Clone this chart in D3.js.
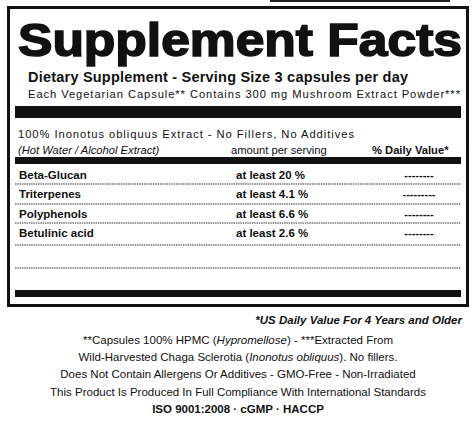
<!DOCTYPE html><html><head><meta charset="utf-8"><script src="https://cdn.jsdelivr.net/npm/d3@7"></script>
<style>body{margin:0;background:#fff}</style></head><body><script>
const nutrients=["Beta-Glucan","Triterpenes","Polyphenols","Betulinic acid"];
const amounts=["at least 20 %","at least 4.1 %","at least 6.6 %","at least 2.6 %"];
const dailyValues=["--------","---------","--------","--------"];
const footLines=[
 [["**Capsules 100% HPMC (",""],["Hypromellose","i"],[")  -  ***Extracted From",""]],
 [["Wild-Harvested Chaga Sclerotia (",""],["Inonotus obliquus","i"],["). No fillers.",""]],
 [["Does Not Contain Allergens Or Additives  -  GMO-Free  -  Non-Irradiated",""]],
 [["This Product Is Produced In Full Compliance With International Standards",""]],
 [["ISO 9001:2008  ·  cGMP  ·  HACCP","b"]]
];
const W=476,H=433,F="Liberation Sans, Arial, sans-serif";
const svg=d3.select("body").append("svg").attr("width",W).attr("height",H).style("font-family",F);
svg.append("rect").attr("x",270).attr("y",0).attr("width",180).attr("height",2).attr("fill","#222");
svg.append("rect").attr("x",8.5).attr("y",7.5).attr("width",459).attr("height",298).attr("fill","none").attr("stroke","#111").attr("stroke-width",3);
const t=(x,y,s,sz,w,st,a)=>svg.append("text").attr("x",x).attr("y",y).text(s).attr("font-size",sz).attr("font-weight",w||"normal").attr("font-style",st||"normal").attr("text-anchor",a||"start").attr("fill","#111");
t(18,56,"Supplement Facts",46,"bold").attr("textLength",444).attr("lengthAdjust","spacingAndGlyphs").attr("stroke","#111").attr("stroke-width",1.6);
t(28,82,"Dietary Supplement - Serving Size 3 capsules per day",14.5,"bold").attr("textLength",380);
t(28,98,"Each Vegetarian Capsule** Contains 300 mg Mushroom Extract Powder***",11.2).attr("textLength",432);
const bar=(y,h)=>svg.append("rect").attr("x",15).attr("y",y).attr("width",446).attr("height",h).attr("fill","#111");
bar(106,12);bar(157,7);bar(290,7);
t(18,138,"100% Inonotus obliquus Extract - No Fillers, No Additives",11.2).attr("textLength",336);
t(18,154,"(Hot Water / Alcohol Extract)",11.2,null,"italic");
t(231,154,"amount per serving",11.2);
t(372,154,"% Daily Value*",11.2,"bold");
const y=d3.scalePoint().domain(nutrients).range([178,236]);
const rowY=[184,204,223,245,268];
rowY.forEach(v=>svg.append("line").attr("x1",15).attr("x2",461).attr("y1",v).attr("y2",v).attr("stroke","#333").attr("stroke-width",1.2).attr("stroke-dasharray","1.5,0.8"));
nutrients.forEach((n,i)=>{const yy=y(n)+1;t(19,yy,n,11.5,"bold");t(236,yy,amounts[i],11.5,"bold");t(419,yy,dailyValues[i],11,"bold",null,"middle");});
t(462,324,"*US Daily Value For 4 Years and Older",11.5,"bold","italic","end");
footLines.forEach((parts,i)=>{const tx=svg.append("text").attr("x",238).attr("y",344+i*17.2).attr("text-anchor","middle").attr("font-size",11.5).attr("fill","#111");
 parts.forEach(p=>tx.append("tspan").text(p[0]).attr("font-style",p[1]=="i"?"italic":"normal").attr("font-weight",p[1]=="b"?"bold":"normal"));});
</script></body></html>
